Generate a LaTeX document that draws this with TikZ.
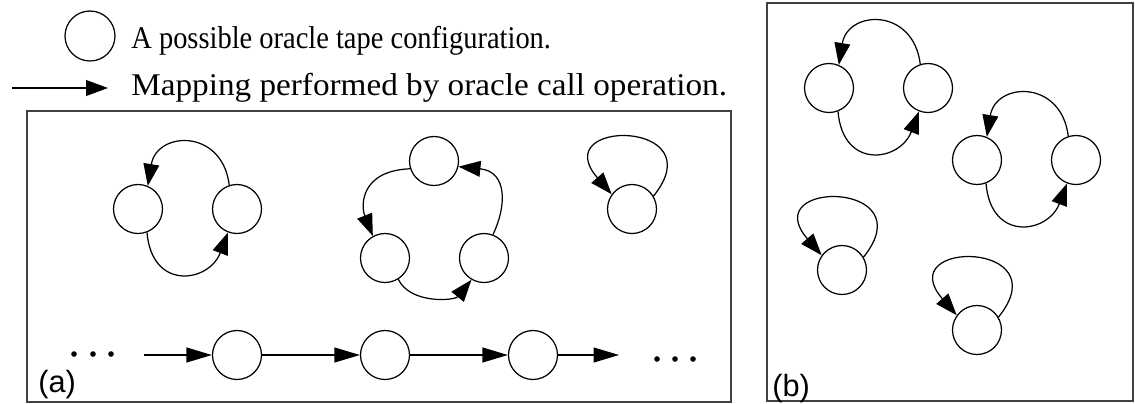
\documentclass[tikz,border=0pt]{standalone}
\usepackage{fontspec}
\setmainfont{Liberation Serif}
\newfontfamily\panelsans{Liberation Sans}
\usetikzlibrary{arrows.meta,calc}
\definecolor{oracleFrame}{RGB}{64,64,64}

\begin{document}
\begin{tikzpicture}[x=0.02cm, y=-0.02cm,
    tapeConf/.style={circle, draw, line width=0.7pt, minimum size=0.98cm, inner sep=0pt},
    mapArrow/.style={line width=0.7pt, -{Triangle[length=12.5pt,width=9pt]}},
    chainArrow/.style={line width=0.7pt, -{Triangle[length=14.5pt,width=8.5pt]}},
    panelBox/.style={draw=oracleFrame, line width=0.9pt},
    legendText/.style={anchor=base west, inner sep=0pt, font=\fontsize{18}{20}\selectfont},
    panelLabel/.style={anchor=base west, inner sep=0pt, font=\panelsans\fontsize{17.5}{20}\selectfont}]
  \useasboundingbox (0,0) rectangle (1135,403);

  % legend
  \node[tapeConf, minimum size=1cm] (legConf) at (90,36) {};
  \node[legendText] (legConfText) at (131,48) {\scalebox{0.9}[1]{A possible oracle tape configuration.}};
  \coordinate (legFrom) at (12,88);
  \coordinate (legTo) at (108,88);
  \draw[mapArrow] (legFrom) -- (legTo);
  \node[legendText] (legMapText) at (131,95) {\scalebox{1.05}[1]{Mapping performed by oracle call operation.}};

  % panels
  \draw[panelBox] (27,111) rectangle (731,402);
  \draw[panelBox] (767,3) rectangle (1133,401);
  \node[panelLabel] (labA) at (38,392) {(a)};
  \node[panelLabel] (labB) at (772,396) {(b)};

  % two-cycles
  \foreach \nm/\cx/\cy in {a1/138/209, b1/829/88, b2/977/160} {
    \node[tapeConf] (\nm L) at (\cx,\cy) {};
    \node[tapeConf] (\nm R) at (\cx+99,\cy) {};
    \draw[mapArrow] (\nm R.108) .. controls +(-7,-57) and +(9,-55) .. (\nm L.67);
    \draw[mapArrow] (\nm L.-69) .. controls +(5,59) and +(-19,50) .. (\nm R.-111);
  }

  % three-cycle
  \node[tapeConf] (a3T) at (434,161) {};
  \node[tapeConf] (a3L) at (385,258) {};
  \node[tapeConf] (a3R) at (484,258) {};
  \draw[mapArrow] (a3T.-162) .. controls +(-50,2) and +(-12,-30) .. (a3L.119);
  \draw[mapArrow] (a3L.-58) .. controls +(12,25) and +(-17,21) .. (a3R.-120);
  \draw[mapArrow] (a3R.69) .. controls +(13,-27) and +(50,5) .. (a3T.-13);

  % fixed points
  \foreach \nm/\cx/\cy in {a4/632/209, b3/842/270, b4/977/330} {
    \node[tapeConf] (\nm) at (\cx,\cy) {};
    \draw[mapArrow] (\nm.31) .. controls +(62,-77) and +(-66,-76) .. (\nm.144);
  }

  % infinite chain
  \node[tapeConf] (ch1) at (237,355) {};
  \node[tapeConf] (ch2) at (385,355) {};
  \node[tapeConf] (ch3) at (533,355) {};
  \coordinate (chIn) at (144,355);
  \coordinate (chOut) at (619,355);
  \draw[chainArrow] (chIn) -- (ch1);
  \draw[chainArrow] (ch1) -- (ch2);
  \draw[chainArrow] (ch2) -- (ch3);
  \draw[chainArrow] (ch3) -- (chOut);
  \foreach \dx in {74,93,111} \fill (\dx,354) circle[radius=1.6pt];
  \foreach \dx in {657,675,693} \fill (\dx,359) circle[radius=1.6pt];
\end{tikzpicture}
\end{document}
